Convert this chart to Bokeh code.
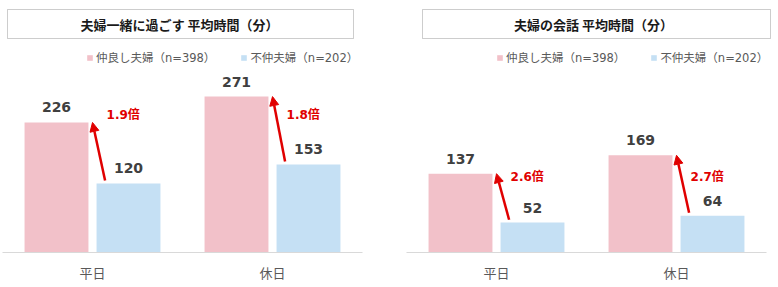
from bokeh.plotting import figure
from bokeh.models import (Range1d, ColumnDataSource, Arrow, NormalHead, FixedTicker,
                          BoxAnnotation, Label, Legend, LegendItem)
from bokeh.layouts import row
from bokeh.embed import file_html
from bokeh.resources import INLINE
from bokeh.core.properties import value

categories = ["平日", "休日"]
series_names = ["仲良し夫婦（n=398）", "不仲夫婦（n=202）"]
titles = ["夫婦一緒に過ごす 平均時間（分）", "夫婦の会話 平均時間（分）"]
together_good = [226, 271]
together_bad = [120, 153]
together_ratio = ["1.9倍", "1.8倍"]
talk_good = [137, 169]
talk_bad = [52, 64]
talk_ratio = ["2.6倍", "2.7倍"]

PINK = "#F2C1C9"
BLUE = "#C5E0F4"
RED = "#E00000"
JP = "Noto Sans CJK JP"
NUM = "DejaVu Sans"
MIX = "DejaVu Sans, Noto Sans CJK JP"

W = 389          # canvas width of one chart
CAT_PX = 180.0   # pixels per category


def make_chart(title, good, bad, ratios, left_px, box, title_x, ratio_dy, legend_x):
    n = len(categories)
    x0 = -left_px / CAT_PX
    x1 = x0 + W / CAT_PX
    p = figure(width=W, height=284, output_backend="svg", toolbar_location=None,
               x_range=Range1d(x0, x1), y_range=Range1d(0, 438), y_axis_location=None,
               min_border_left=0, min_border_right=0, min_border_top=0, min_border_bottom=32)
    p.outline_line_color = None
    p.xgrid.visible = False
    p.ygrid.visible = False

    cx = [i + 0.5 for i in range(n)]
    src = ColumnDataSource(dict(
        cx=cx, good=good, bad=bad,
        xg=[c - 0.2 for c in cx], xb=[c + 0.2 for c in cx],
        good_txt=[str(v) for v in good], bad_txt=[str(v) for v in bad],
        ratio=ratios,
        xs=[c + 0.07 for c in cx], ys=[b + 5 for b in bad],
        ye=good,
        xr=[c + 0.078 for c in cx], yr=[good[0]] * n,
    ))

    r1 = p.vbar(x="xg", top="good", width=0.355, source=src,
                fill_color=PINK, line_color=None)
    r2 = p.vbar(x="xb", top="bad", width=0.355, source=src,
                fill_color=BLUE, line_color=None)

    for xcol, col, txt in (("xg", "good", "good_txt"), ("xb", "bad", "bad_txt")):
        p.text(x=xcol, y=col, text=txt, source=src,
               text_align="center", text_baseline="middle", y_offset=-15,
               text_font=value(NUM), text_font_style="bold", text_font_size="14px",
               text_color="#404040")

    p.add_layout(Arrow(end=NormalHead(size=9, fill_color=RED, line_color=RED, line_width=1),
                       x_start="xs", y_start="ys", x_end="cx", y_end="ye", source=src,
                       line_color=RED, line_width=2.5))

    p.text(x="xr", y="yr", text="ratio", source=src, y_offset=ratio_dy,
           text_align="left", text_baseline="middle",
           text_font=value(MIX), text_font_style="bold",
           text_font_size="12px", text_color=RED)

    ax = p.xaxis[0]
    ax.ticker = FixedTicker(ticks=cx)
    ax.major_label_overrides = {c: lab for c, lab in zip(cx, categories)}
    ax.bounds = (0, n)
    ax.axis_line_color = "#D9D9D9"
    ax.axis_line_width = 1
    ax.major_tick_line_color = None
    ax.minor_tick_line_color = None
    ax.major_tick_out = 0
    ax.major_tick_in = 0
    ax.minor_tick_out = 0
    ax.minor_tick_in = 0
    ax.major_label_standoff = 10
    ax.major_label_text_font = JP
    ax.major_label_text_font_size = "13px"
    ax.major_label_text_color = "#595959"

    legend = Legend(items=[LegendItem(label=series_names[0], renderers=[r1]),
                           LegendItem(label=series_names[1], renderers=[r2])],
                    orientation="horizontal", location=(legend_x, 187),
                    glyph_width=7, glyph_height=7, label_height=14, label_standoff=3,
                    spacing=25, padding=0, margin=0,
                    border_line_color=None, background_fill_alpha=0,
                    label_text_font=MIX, label_text_font_size="11.5px",
                    label_text_color="#595959")
    p.add_layout(legend, "center")

    p.add_layout(BoxAnnotation(left=box[0], right=box[1], top=9, bottom=38,
                               left_units="canvas", right_units="canvas",
                               top_units="canvas", bottom_units="canvas",
                               fill_alpha=0, line_color="#595959", line_width=1))
    p.add_layout(Label(x=title_x, y=24, x_units="canvas", y_units="canvas", text=title,
                       text_align="center", text_baseline="middle",
                       text_font=JP, text_font_style="bold", text_font_size="13px",
                       text_color="#1a1a1a"))
    return p


p1 = make_chart(titles[0], together_good, together_bad, together_ratio,
                2, (7, 353), 179, -7, 86)
p2 = make_chart(titles[1], talk_good, talk_bad, talk_ratio,
                17, (33, 381), 204, 3, 107)

layout = row(p1, p2)
open("out.html", "w").write(file_html(layout, INLINE))
